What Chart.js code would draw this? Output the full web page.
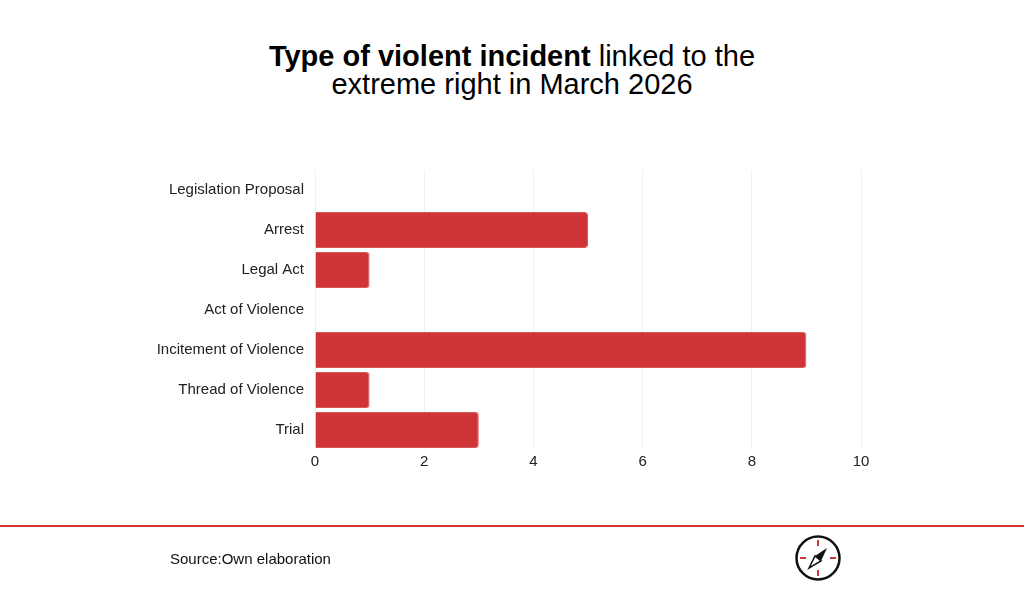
<!DOCTYPE html>
<html lang="en">
<head>
  <meta charset="UTF-8">
  <title>Type of violent incident</title>
  <script src="https://cdn.jsdelivr.net/npm/chart.js@4.4.0/dist/chart.umd.min.js"></script>
  <style>
    body { margin: 0; width: 1024px; height: 594px; background: #fff; font-family: "Liberation Sans", Arial, sans-serif; position: relative; overflow: hidden; }
    #title { position: absolute; top: 42px; left: 0; width: 1024px; text-align: center; font-size: 29px; line-height: 28px; color: #000; }
    #chart { position: absolute; top: 0; left: 0; }
    #rule { position: absolute; top: 525px; left: 0; width: 1024px; height: 2px; background: #d03535; }
    #source { position: absolute; top: 550px; left: 170px; font-size: 15px; color: #111; }
    #logo { position: absolute; top: 534px; left: 794px; }
  </style>
</head>
<body>
  <div id="title"><b>Type of violent incident</b> linked to the<br>extreme right in March 2026</div>
  <canvas id="chart" width="1024" height="594"></canvas>
  <div id="rule"></div>
  <div id="source">Source:Own elaboration</div>
  <svg id="logo" width="48" height="48" viewBox="0 0 48 48">
    <circle cx="24" cy="24" r="21.5" fill="none" stroke="#111" stroke-width="2.5"/>
    <g stroke="#d03535" stroke-width="2">
      <line x1="24" y1="6" x2="24" y2="12"/>
      <line x1="24" y1="36" x2="24" y2="42"/>
      <line x1="6" y1="24" x2="12" y2="24"/>
      <line x1="36" y1="24" x2="42" y2="24"/>
    </g>
    <polygon points="33,14 27,27 21,22" fill="#111"/>
    <polygon points="15,34 21,22 27,27" fill="#fff" stroke="#111" stroke-width="1.5"/>
  </svg>

  <script>
    /* Categories and values. */
    const categories = ["Legislation Proposal", "Arrest", "Legal Act", "Act of Violence", "Incitement of Violence", "Thread of Violence", "Trial"]
    const counts = [0, 5, 1, 0, 9, 1, 3]
    const xTicks = [0, 2, 4, 6, 8, 10]

    const ctx = document.getElementById("chart").getContext("2d")

    new Chart(ctx, {
      type: "bar",
      data: {
        labels: categories,
        datasets: [{
          data: counts,
          backgroundColor: "#cf3537",
          borderColor: "#d9595a",
          borderWidth: 1,
          borderRadius: 3,
          borderSkipped: "start",
          categoryPercentage: 0.9,
          barPercentage: 1
        }]
      },
      options: {
        indexAxis: "y",
        responsive: false,
        animation: false,
        layout: { padding: { top: 170, right: 163, left: 0, bottom: 0 } },
        plugins: { legend: { display: false }, title: { display: false }, tooltip: { enabled: false } },
        scales: {
          x: {
            min: 0,
            max: 10,
            afterBuildTicks: axis => { axis.ticks = xTicks.map(v => ({ value: v })) },
            afterFit: axis => { axis.height = 144 },
            grid: { color: "#f0f0f0", drawTicks: false },
            border: { display: false },
            ticks: { color: "#222", padding: 3, font: { family: "Liberation Sans", size: 15 } }
          },
          y: {
            afterFit: axis => { axis.width = 315 },
            grid: { display: false, drawTicks: false },
            border: { display: false },
            ticks: { color: "#222", padding: 11, font: { family: "Liberation Sans", size: 15 } }
          }
        }
      }
    })
  </script>
</body>
</html>
